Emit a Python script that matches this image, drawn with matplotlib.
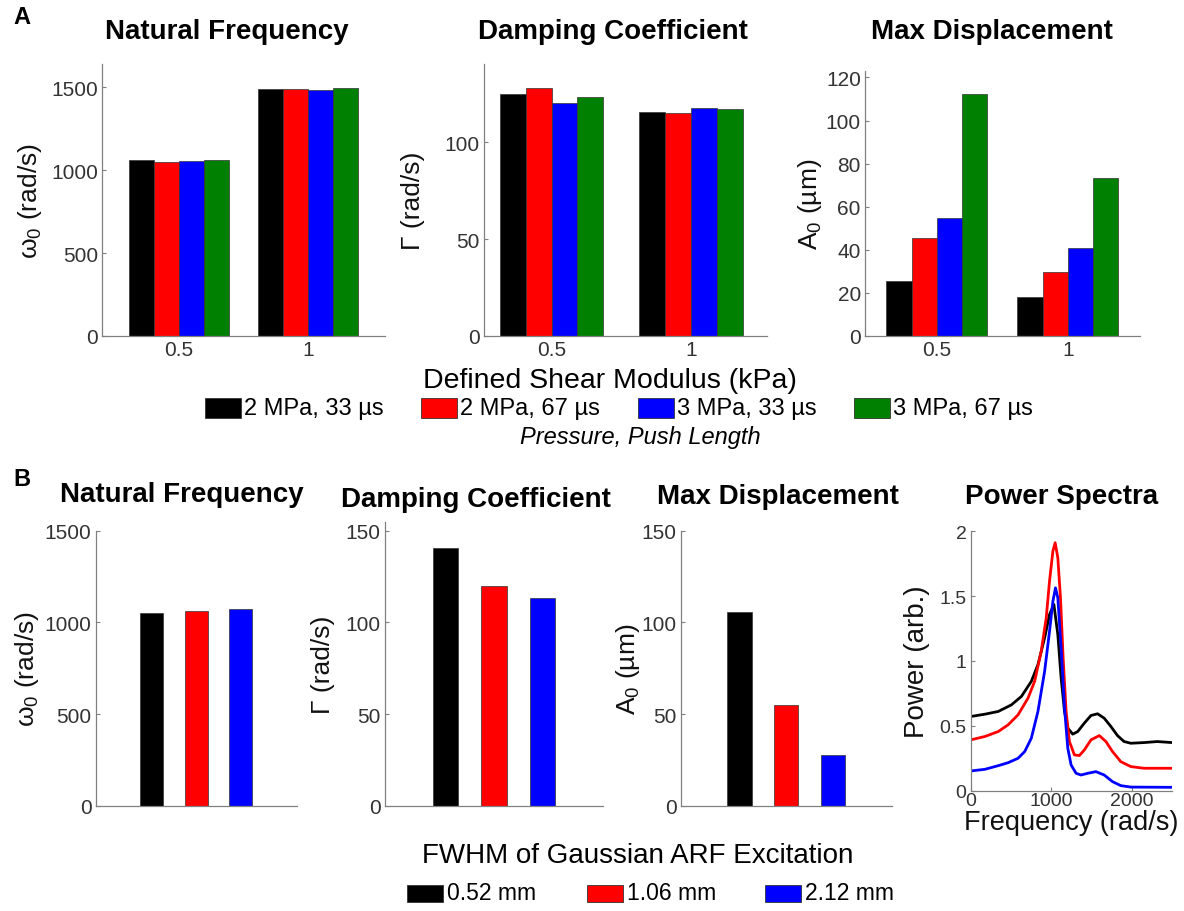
import matplotlib
matplotlib.use('Agg')
import matplotlib.pyplot as plt
from matplotlib.patches import Rectangle

plt.rcParams['font.family'] = ['Liberation Sans', 'DejaVu Sans']
plt.rcParams['mathtext.fontset'] = 'custom'
plt.rcParams['mathtext.rm'] = 'Liberation Sans'
plt.rcParams['mathtext.it'] = 'Liberation Sans:italic'
plt.rcParams['mathtext.bf'] = 'Liberation Sans:bold'

# ---- data, panel A ----
shear_mod = [0.5, 1]
push_labels = ['2 MPa, 33 µs', '2 MPa, 67 µs', '3 MPa, 33 µs', '3 MPa, 67 µs']
push_colors = ['#000000', '#ff0000', '#0000ff', '#008000']
omega_a = [[1060, 1489], [1052, 1491], [1056, 1485], [1060, 1493]]
gamma_a = [[125.0, 115.8], [127.9, 115.3], [120.3, 117.7], [123.4, 117.2]]
amp_a = [[25.6, 17.9], [45.3, 29.8], [54.7, 40.8], [112.1, 73.3]]

# ---- data, panel B ----
fwhm_labels = ['0.52 mm', '1.06 mm', '2.12 mm']
fwhm_colors = ['#000000', '#ff0000', '#0000ff']
omega_b = [1051, 1064, 1073]
gamma_b = [140.6, 120.0, 113.5]
amp_b = [105.8, 55.1, 27.8]

# power spectra
freq_k = [0, 177, 342, 506, 630, 753, 835, 918, 979, 1033, 1082, 1123, 1165, 1206, 1267,
          1329, 1411, 1494, 1576, 1658, 1741, 1823, 1905, 1988, 2152, 2317, 2500]
pow_k = [0.572, 0.59, 0.611, 0.662, 0.727, 0.843, 0.972, 1.178, 1.358, 1.436, 1.204, 0.869,
         0.611, 0.482, 0.436, 0.456, 0.521, 0.58, 0.593, 0.559, 0.495, 0.425, 0.379, 0.366,
         0.371, 0.379, 0.371]
freq_r = [0, 177, 342, 465, 588, 712, 794, 876, 938, 979, 1021, 1049, 1082, 1115, 1148, 1185,
          1226, 1288, 1350, 1411, 1494, 1597, 1679, 1761, 1864, 1988, 2152, 2500]
pow_r = [0.392, 0.418, 0.456, 0.508, 0.585, 0.714, 0.843, 1.075, 1.332, 1.616, 1.848, 1.912,
         1.796, 1.487, 1.023, 0.611, 0.379, 0.276, 0.271, 0.314, 0.392, 0.425, 0.379, 0.302,
         0.224, 0.186, 0.173, 0.173]
freq_b = [0, 177, 342, 465, 588, 671, 753, 835, 918, 979, 1021, 1053, 1082, 1123, 1165, 1206,
          1247, 1309, 1370, 1452, 1555, 1658, 1761, 1864, 1988, 2500]
pow_b = [0.152, 0.165, 0.193, 0.216, 0.25, 0.302, 0.405, 0.611, 0.92, 1.229, 1.461, 1.564,
         1.487, 1.1, 0.637, 0.327, 0.198, 0.134, 0.121, 0.134, 0.147, 0.121, 0.07, 0.039,
         0.028, 0.026]

W, H = 1184, 912
fig = plt.figure(figsize=(W / 100, H / 100), dpi=100)


def ax_px(left, right, top, bottom):
    return fig.add_axes([left / W, 1 - bottom / H, (right - left) / W, (bottom - top) / H])


def style(ax, tick_size=15):
    for s in ['top', 'right']:
        ax.spines[s].set_visible(False)
    for s in ['left', 'bottom']:
        ax.spines[s].set_color('#808080')
        ax.spines[s].set_linewidth(0.9)
    ax.tick_params(direction='in', length=3, color='#808080', labelsize=tick_size,
                   labelcolor='#333333', pad=3)


def ylab(ax, text, xc, size=19):
    ax.set_ylabel(text, fontsize=size, va='center', color='#111111')
    ax.yaxis.set_label_coords(xc, 0.5)


def ftext(x, y, s, **kw):
    fig.text(x / W, 1 - y / H, s, **kw)


def fpatch(x, y, w, h, c):
    fig.add_artist(Rectangle((x / W, 1 - (y + h) / H), w / W, h / H, facecolor=c,
                             edgecolor='#333333', lw=0.6, transform=fig.transFigure))


# ---- panel A ----
top_axes = [ax_px(102, 385, 65, 337), ax_px(484, 767, 65, 337), ax_px(865, 1140, 72, 337)]
top_data = [omega_a, gamma_a, amp_a]
top_ylim = [1640, 140.5, 123]
top_xlim = [(0.2, 1.3), (0.257, 1.274), (0.226, 1.276)]
top_bw = [0.097, 0.093, 0.096]
top_yticks = [[0, 500, 1000, 1500], [0, 50, 100], [0, 20, 40, 60, 80, 100, 120]]
top_ylabels = ['ω$_0$ (rad/s)', 'Γ (rad/s)', 'A$_0$ (µm)']
top_labx = [-0.254, -0.251, -0.2]
top_titles = ['Natural Frequency', 'Damping Coefficient', 'Max Displacement']
top_title_x = [227, 613, 992]

for i, ax in enumerate(top_axes):
    bw = top_bw[i]
    for j, vals in enumerate(top_data[i]):
        xs = [x + (j - 1.5) * bw for x in shear_mod]
        ax.bar(xs, vals, width=bw, color=push_colors[j], edgecolor='#333333', linewidth=0.5)
    ax.set_xlim(*top_xlim[i])
    ax.set_ylim(0, top_ylim[i])
    ax.set_xticks(shear_mod)
    ax.set_xticklabels(['0.5', '1'])
    ax.set_yticks(top_yticks[i])
    style(ax)
    ax.tick_params(axis='x', length=0)
    ylab(ax, top_ylabels[i], top_labx[i])
    ftext(top_title_x[i], 32, top_titles[i], fontsize=20, fontweight='bold',
          ha='center', va='center')

ftext(22, 17, 'A', fontsize=17, fontweight='bold', ha='center', va='center')
ftext(610, 381, 'Defined Shear Modulus (kPa)', fontsize=20.5, ha='center', va='center')
for x, lab, c in zip([205, 421, 638, 854], push_labels, push_colors):
    fpatch(x, 399, 36, 20, c)
    ftext(x + 39, 409, lab, fontsize=17, ha='left', va='center')
ftext(640, 438, 'Pressure, Push Length', fontsize=17, style='italic', ha='center', va='center')

# ---- panel B ----
pos = [1, 2, 3]
bot_axes = [ax_px(95.7, 296.7, 531.7, 806.7), ax_px(385, 603, 523.3, 806.7),
            ax_px(680.7, 891.7, 531.7, 806.7)]
bot_data = [omega_b, gamma_b, amp_b]
bot_ylim = [1500, 154.6, 150]
bot_yticks = [[0, 500, 1000, 1500], [0, 50, 100, 150], [0, 50, 100, 150]]
bot_labx = [-0.342, -0.284, -0.25]
bot_titles = ['Natural Frequency', 'Damping Coefficient', 'Max Displacement']
bot_title_x = [182, 476, 778]
bot_title_y = [495, 500, 497]

for i, ax in enumerate(bot_axes):
    ax.bar(pos, bot_data[i], width=0.52, color=fwhm_colors, edgecolor='#333333', linewidth=0.5)
    ax.set_xlim(-0.26, 4.26)
    ax.set_ylim(0, bot_ylim[i])
    ax.set_xticks([])
    ax.set_yticks(bot_yticks[i])
    style(ax)
    ylab(ax, top_ylabels[i], bot_labx[i])
    ftext(bot_title_x[i], bot_title_y[i], bot_titles[i], fontsize=20, fontweight='bold',
          ha='center', va='center')

ax4 = ax_px(970.7, 1172, 532.3, 791.7)
ax4.plot(freq_k, pow_k, color='#000000', lw=2)
ax4.plot(freq_r, pow_r, color='#ff0000', lw=2)
ax4.plot(freq_b, pow_b, color='#0000ff', lw=2)
ax4.set_xlim(0, 2500)
ax4.set_ylim(0, 2)
ax4.set_xticks([0, 1000, 2000])
ax4.set_yticks([0, 0.5, 1, 1.5, 2])
ax4.set_yticklabels(['0', '0.5', '1', '1.5', '2'])
style(ax4, tick_size=14)
ax4.tick_params(axis='x', pad=1)
ylab(ax4, 'Power (arb.)', -0.267, size=20)
ax4.set_xlabel('Frequency (rad/s)', fontsize=19.5, labelpad=0, color='#111111')
ftext(1062, 497, 'Power Spectra', fontsize=20, fontweight='bold', ha='center', va='center')

ftext(22, 480, 'B', fontsize=17, fontweight='bold', ha='center', va='center')
ftext(638, 856, 'FWHM of Gaussian ARF Excitation', fontsize=20, ha='center', va='center')
for x, lab, c in zip([407, 587, 765], fwhm_labels, fwhm_colors):
    fpatch(x, 886, 36, 17, c)
    ftext(x + 40, 894, lab, fontsize=16.5, ha='left', va='center')

fig.savefig('out.png', dpi=100)
